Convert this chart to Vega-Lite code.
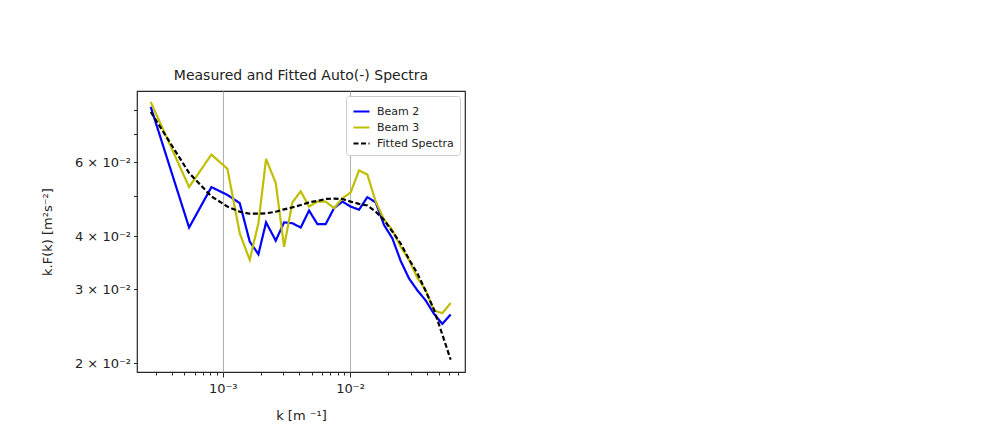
{
  "$schema": "https://vega.github.io/schema/vega-lite/v6.json",
  "width": 328,
  "height": 281,
  "padding": {"left": 41, "top": 69, "right": 5, "bottom": 5},
  "background": "white",
  "title": {"text": "Measured and Fitted Auto(-) Spectra", "font": "DejaVu Sans", "fontSize": 14, "fontWeight": "normal", "color": "#222", "offset": 8},
  "config": {
    "font": "DejaVu Sans",
    "view": {"stroke": "#262626", "strokeWidth": 1.2}
  },
  "data": {"values": [
    {"series": "Beam 2", "k": 0.000272, "F": 0.0812},
    {"series": "Beam 2", "k": 0.000544, "F": 0.0420},
    {"series": "Beam 2", "k": 0.0008147, "F": 0.0524},
    {"series": "Beam 2", "k": 0.0010879, "F": 0.0502},
    {"series": "Beam 2", "k": 0.0013597, "F": 0.0480},
    {"series": "Beam 2", "k": 0.001629, "F": 0.0389},
    {"series": "Beam 2", "k": 0.001906, "F": 0.0363},
    {"series": "Beam 2", "k": 0.002189, "F": 0.0432},
    {"series": "Beam 2", "k": 0.002608, "F": 0.0391},
    {"series": "Beam 2", "k": 0.003032, "F": 0.0432},
    {"series": "Beam 2", "k": 0.003524, "F": 0.0430},
    {"series": "Beam 2", "k": 0.004098, "F": 0.0420},
    {"series": "Beam 2", "k": 0.004764, "F": 0.0461},
    {"series": "Beam 2", "k": 0.00554, "F": 0.0428},
    {"series": "Beam 2", "k": 0.00644, "F": 0.0428},
    {"series": "Beam 2", "k": 0.007484, "F": 0.0467},
    {"series": "Beam 2", "k": 0.008707, "F": 0.0484},
    {"series": "Beam 2", "k": 0.010121, "F": 0.0471},
    {"series": "Beam 2", "k": 0.011768, "F": 0.0463},
    {"series": "Beam 2", "k": 0.01368, "F": 0.0496},
    {"series": "Beam 2", "k": 0.01591, "F": 0.0482},
    {"series": "Beam 2", "k": 0.01849, "F": 0.0426},
    {"series": "Beam 2", "k": 0.0215, "F": 0.0396},
    {"series": "Beam 2", "k": 0.02499, "F": 0.0350},
    {"series": "Beam 2", "k": 0.02906, "F": 0.0318},
    {"series": "Beam 2", "k": 0.03379, "F": 0.0298},
    {"series": "Beam 2", "k": 0.03928, "F": 0.0282},
    {"series": "Beam 2", "k": 0.04567, "F": 0.0262},
    {"series": "Beam 2", "k": 0.0531, "F": 0.0248},
    {"series": "Beam 2", "k": 0.06172, "F": 0.0261},
    {"series": "Beam 3", "k": 0.000272, "F": 0.0834},
    {"series": "Beam 3", "k": 0.000544, "F": 0.0524},
    {"series": "Beam 3", "k": 0.0008147, "F": 0.0626},
    {"series": "Beam 3", "k": 0.0010879, "F": 0.0579},
    {"series": "Beam 3", "k": 0.0013597, "F": 0.0407},
    {"series": "Beam 3", "k": 0.001629, "F": 0.0352},
    {"series": "Beam 3", "k": 0.001906, "F": 0.0430},
    {"series": "Beam 3", "k": 0.002189, "F": 0.0611},
    {"series": "Beam 3", "k": 0.002608, "F": 0.0536},
    {"series": "Beam 3", "k": 0.003032, "F": 0.0378},
    {"series": "Beam 3", "k": 0.003524, "F": 0.0482},
    {"series": "Beam 3", "k": 0.004098, "F": 0.0512},
    {"series": "Beam 3", "k": 0.004764, "F": 0.0471},
    {"series": "Beam 3", "k": 0.00554, "F": 0.0484},
    {"series": "Beam 3", "k": 0.00644, "F": 0.0484},
    {"series": "Beam 3", "k": 0.007484, "F": 0.0467},
    {"series": "Beam 3", "k": 0.008707, "F": 0.0493},
    {"series": "Beam 3", "k": 0.010121, "F": 0.0509},
    {"series": "Beam 3", "k": 0.011768, "F": 0.0574},
    {"series": "Beam 3", "k": 0.01368, "F": 0.0561},
    {"series": "Beam 3", "k": 0.01591, "F": 0.0484},
    {"series": "Beam 3", "k": 0.01849, "F": 0.0439},
    {"series": "Beam 3", "k": 0.0215, "F": 0.0414},
    {"series": "Beam 3", "k": 0.02499, "F": 0.0378},
    {"series": "Beam 3", "k": 0.02906, "F": 0.0352},
    {"series": "Beam 3", "k": 0.03379, "F": 0.0319},
    {"series": "Beam 3", "k": 0.03928, "F": 0.0298},
    {"series": "Beam 3", "k": 0.04567, "F": 0.0267},
    {"series": "Beam 3", "k": 0.0531, "F": 0.0263},
    {"series": "Beam 3", "k": 0.06172, "F": 0.0278},
    {"series": "Fitted Spectra", "k": 0.000272, "F": 0.0790},
    {"series": "Fitted Spectra", "k": 0.000544, "F": 0.0566},
    {"series": "Fitted Spectra", "k": 0.0008147, "F": 0.0498},
    {"series": "Fitted Spectra", "k": 0.0010879, "F": 0.0471},
    {"series": "Fitted Spectra", "k": 0.0013597, "F": 0.0458},
    {"series": "Fitted Spectra", "k": 0.001629, "F": 0.0453},
    {"series": "Fitted Spectra", "k": 0.001906, "F": 0.0453},
    {"series": "Fitted Spectra", "k": 0.002189, "F": 0.0454},
    {"series": "Fitted Spectra", "k": 0.002608, "F": 0.0458},
    {"series": "Fitted Spectra", "k": 0.003032, "F": 0.0464},
    {"series": "Fitted Spectra", "k": 0.003524, "F": 0.0469},
    {"series": "Fitted Spectra", "k": 0.004098, "F": 0.0475},
    {"series": "Fitted Spectra", "k": 0.004764, "F": 0.0482},
    {"series": "Fitted Spectra", "k": 0.00554, "F": 0.0486},
    {"series": "Fitted Spectra", "k": 0.00644, "F": 0.0491},
    {"series": "Fitted Spectra", "k": 0.007484, "F": 0.0492},
    {"series": "Fitted Spectra", "k": 0.008707, "F": 0.0491},
    {"series": "Fitted Spectra", "k": 0.010121, "F": 0.0484},
    {"series": "Fitted Spectra", "k": 0.011768, "F": 0.0478},
    {"series": "Fitted Spectra", "k": 0.01368, "F": 0.0474},
    {"series": "Fitted Spectra", "k": 0.01591, "F": 0.0458},
    {"series": "Fitted Spectra", "k": 0.01849, "F": 0.0438},
    {"series": "Fitted Spectra", "k": 0.0215, "F": 0.0411},
    {"series": "Fitted Spectra", "k": 0.02499, "F": 0.0385},
    {"series": "Fitted Spectra", "k": 0.02906, "F": 0.0353},
    {"series": "Fitted Spectra", "k": 0.03379, "F": 0.0327},
    {"series": "Fitted Spectra", "k": 0.03928, "F": 0.0297},
    {"series": "Fitted Spectra", "k": 0.04567, "F": 0.0268},
    {"series": "Fitted Spectra", "k": 0.0531, "F": 0.0234},
    {"series": "Fitted Spectra", "k": 0.06172, "F": 0.0204}
  ]},
  "mark": {"type": "line", "strokeWidth": 2.2, "clip": true},
  "encoding": {
    "x": {
      "field": "k", "type": "quantitative",
      "scale": {"type": "log", "domain": [0.000212, 0.08], "nice": false},
      "axis": {
        "title": "k [m ⁻¹]",
        "titleFontSize": 13, "titleFontWeight": "normal", "titleColor": "#222", "titlePadding": 14,
        "values": [0.0003, 0.0004, 0.0005, 0.0006, 0.0007, 0.0008, 0.0009, 0.001, 0.002, 0.003, 0.004, 0.005, 0.006, 0.007, 0.008, 0.009, 0.01, 0.02, 0.03, 0.04, 0.05, 0.06, 0.07],
        "labelExpr": "abs(log(datum.value)/LN10 + 3) < 0.001 ? '10⁻³' : (abs(log(datum.value)/LN10 + 2) < 0.001 ? '10⁻²' : '')",
        "labelFontSize": 13, "labelColor": "#222", "labelPadding": 5,
        "domain": false,
        "tickColor": "#262626", "tickWidth": 1,
        "tickSize": {"condition": {"test": "abs(log(datum.value)/LN10 - round(log(datum.value)/LN10)) < 0.001", "value": 5}, "value": 3},
        "grid": true,
        "gridColor": "#b0b0b0", "gridWidth": 1,
        "gridOpacity": {"condition": {"test": "abs(log(datum.value)/LN10 - round(log(datum.value)/LN10)) < 0.001", "value": 1}, "value": 0}
      }
    },
    "y": {
      "field": "F", "type": "quantitative",
      "scale": {"type": "log", "domain": [0.01907, 0.0886], "nice": false},
      "axis": {
        "title": "k.F(k) [m²s⁻²]",
        "titleFontSize": 13, "titleFontWeight": "normal", "titleColor": "#222", "titlePadding": 20,
        "values": [0.02, 0.03, 0.04, 0.05, 0.06, 0.07, 0.08],
        "labelExpr": "indexof([2, 3, 4, 6], round(datum.value * 100)) >= 0 ? round(datum.value * 100) + ' × 10⁻²' : ''",
        "labelFontSize": 13, "labelColor": "#222", "labelPadding": 3,
        "domain": false, "grid": false,
        "tickColor": "#262626", "tickWidth": 1, "tickSize": 3.5
      }
    },
    "color": {
      "field": "series", "type": "nominal",
      "scale": {"domain": ["Beam 2", "Beam 3", "Fitted Spectra"], "range": ["#0000ff", "#bfbf00", "#000000"]},
      "legend": {
        "title": null, "orient": "top-right", "offset": 5,
        "symbolType": "stroke", "symbolSize": 256, "symbolStrokeWidth": 2.2,
        "labelFontSize": 11, "labelColor": "#222", "rowPadding": 1, "labelOffset": 6,
        "strokeColor": "#cccccc", "fillColor": "white", "padding": 6, "cornerRadius": 3
      }
    },
    "strokeDash": {
      "field": "series", "type": "nominal",
      "scale": {"domain": ["Beam 2", "Beam 3", "Fitted Spectra"], "range": [[1, 0], [1, 0], [5, 2.5]]},
      "legend": {"title": null}
    }
  }
}
